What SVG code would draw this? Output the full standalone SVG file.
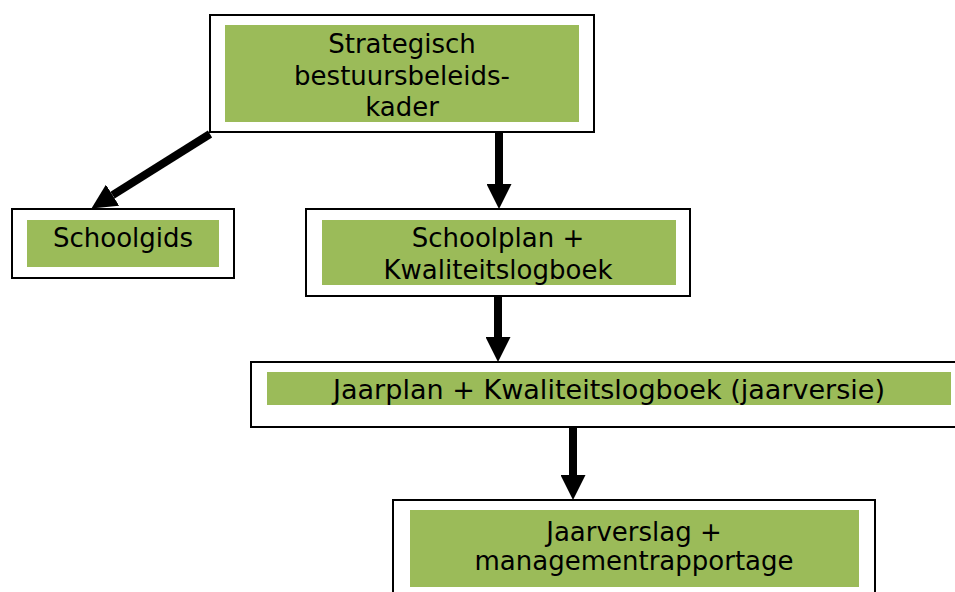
<svg xmlns="http://www.w3.org/2000/svg" width="955" height="592" viewBox="0 0 955 592">
<style>
.box{fill:#ffffff;stroke:#000000;stroke-width:2}
.fill{fill:#9BBB59}
.t{font-family:"DejaVu Sans","Verdana",sans-serif;font-size:26px;fill:#000000;text-anchor:middle}
.c{stroke:#000000;stroke-width:8;fill:none}
</style>
<defs>
<marker id="ah" markerUnits="userSpaceOnUse" markerWidth="25" markerHeight="25" refX="0" refY="12.5" orient="auto" viewBox="0 0 25 25">
<path d="M0,0 L25,12.5 L0,25 z" fill="#000000"/>
</marker>
</defs>
<rect width="955" height="592" fill="#ffffff"/>
<g id="connectors">
<line class="c" x1="210" y1="134" x2="112.6" y2="195.2" marker-end="url(#ah)"/>
<line class="c" x1="499" y1="133" x2="499" y2="184" marker-end="url(#ah)"/>
<line class="c" x1="498" y1="296" x2="498" y2="337" marker-end="url(#ah)"/>
<line class="c" x1="573" y1="427" x2="573" y2="475" marker-end="url(#ah)"/>
</g>
<g id="node-strategisch">
<rect class="box" x="210" y="15" width="384" height="117"/>
<rect class="fill" x="225" y="25" width="354" height="97"/>
<text class="t" x="402" y="53">Strategisch</text>
<text class="t" x="402" y="85">bestuursbeleids-</text>
<text class="t" x="402" y="116">kader</text>
</g>
<g id="node-schoolgids">
<rect class="box" x="12" y="209" width="222" height="69"/>
<rect class="fill" x="27" y="220" width="192" height="47"/>
<text class="t" x="123" y="247">Schoolgids</text>
</g>
<g id="node-schoolplan">
<rect class="box" x="306" y="209" width="384" height="87"/>
<rect class="fill" x="322" y="220" width="354" height="65"/>
<text class="t" x="498" y="247">Schoolplan +</text>
<text class="t" x="498" y="279">Kwaliteitslogboek</text>
</g>
<g id="node-jaarplan">
<rect class="box" x="251" y="362" width="720" height="65"/>
<rect class="fill" x="267" y="372" width="684" height="33"/>
<text class="t" x="609" y="399" textLength="552" lengthAdjust="spacingAndGlyphs">Jaarplan + Kwaliteitslogboek (jaarversie)</text>
</g>
<g id="node-jaarverslag">
<rect class="box" x="393" y="500" width="482" height="110"/>
<rect class="fill" x="410" y="510" width="449" height="77"/>
<text class="t" x="634" y="541">Jaarverslag +</text>
<text class="t" x="634" y="570">managementrapportage</text>
</g>
</svg>
